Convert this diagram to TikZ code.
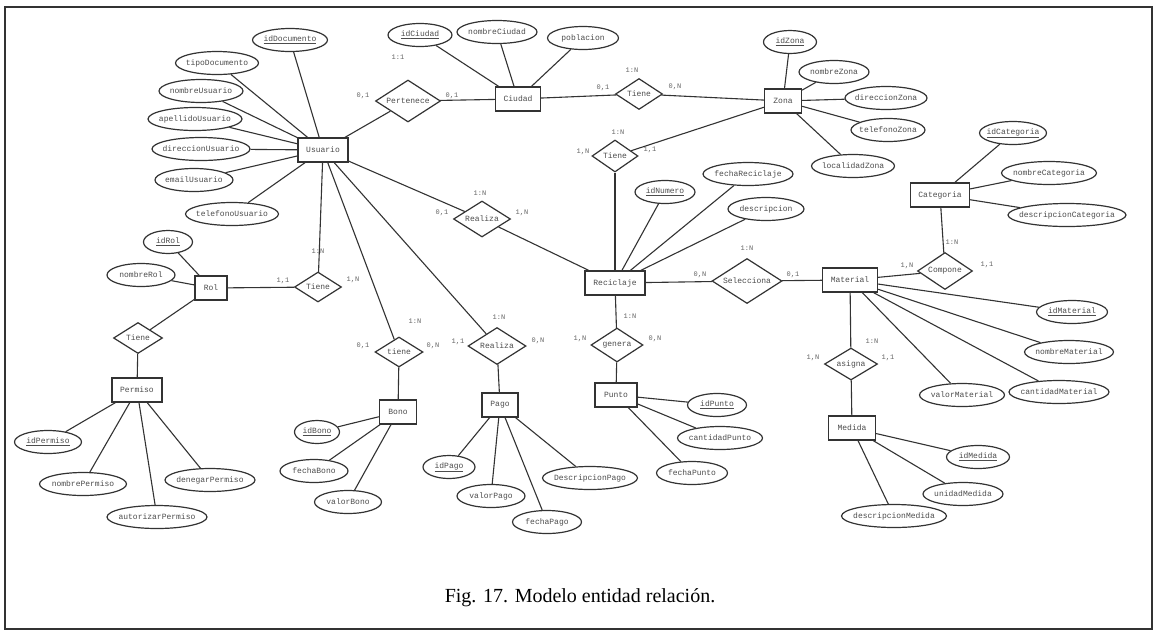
\documentclass[tikz,border=0pt]{standalone}
\usepackage{fontspec}
\setmainfont{Liberation Serif}
\newfontfamily\diafont{Liberation Mono}
\usetikzlibrary{shapes.geometric}

\begin{document}
\begin{tikzpicture}[x=1pt,y=-1pt,
  entity/.style={rectangle, draw=black!80, line width=1.3pt, minimum width=#1,
    minimum height=24, inner sep=0pt, font=\diafont\fontsize{8}{9}\selectfont, text=black!70},
  attr/.style={ellipse, draw=black!80, line width=1.2pt, inner xsep=-60pt, inner ysep=-20pt,
    minimum width=#1, minimum height=23, font=\diafont\fontsize{8}{9}\selectfont, text=black!70},
  rel/.style args={#1/#2}{diamond, draw=black!80, line width=1.2pt, inner xsep=-60pt,
    inner ysep=-40pt, minimum width=#1, minimum height=#2,
    font=\diafont\fontsize{8}{9}\selectfont, text=black!70},
  card/.style={font=\diafont\fontsize{7}{8}\selectfont, text=black!60, inner sep=0pt},
  link/.style={draw=black!80, line width=1.1pt},
  frame/.style={draw=black!80, line width=1.4pt}]

\useasboundingbox (0,0) rectangle (1158,633);
\fill[white] (0,0) rectangle (1158,633);
\draw[frame] (5,7) rectangle (1152,629);

% ---------- entities ----------
\node[entity=50] (usu) at (323,150) {Usuario};
\node[entity=45] (ciu) at (518,99) {Ciudad};
\node[entity=37] (zon) at (783,101) {Zona};
\node[entity=59] (cat) at (940,195) {Categoria};
\node[entity=60] (rec) at (615,283) {Reciclaje};
\node[entity=55] (mat) at (850,280) {Material};
\node[entity=47] (med) at (852,428) {Medida};
\node[entity=42] (pun) at (616,395) {Punto};
\node[entity=37] (bon) at (398,412) {Bono};
\node[entity=36] (pag) at (500,405) {Pago};
\node[entity=32] (rol) at (211,288) {Rol};
\node[entity=50] (per) at (137,390) {Permiso};

% ---------- relationships ----------
\node[rel=65/42] (pert) at (408,101) {Pertenece};
\node[rel=47/31] (tzon) at (639,94) {Tiene};
\node[rel=46/32] (trec) at (615,156) {Tiene};
\node[rel=57/36] (rrec) at (482,219) {Realiza};
\node[rel=70/45] (sel) at (747,281) {Selecciona};
\node[rel=55/37] (comp) at (945,271) {Compone};
\node[rel=53/32] (asig) at (851,364) {asigna};
\node[rel=52/34] (gen) at (617,345) {genera};
\node[rel=47/30] (trol) at (318,287) {Tiene};
\node[rel=48/30] (tbon) at (399,352) {tiene};
\node[rel=58/37] (rpag) at (497,346) {Realiza};
\node[rel=49/31] (tper) at (138,338) {Tiene};

% ---------- attributes ----------
% Usuario
\node[attr=75] (iddoc) at (290,40) {\underline{idDocumento}};
\node[attr=83] (tipdoc) at (217,63) {tipoDocumento};
\node[attr=84] (nomusu) at (201,91) {nombreUsuario};
\node[attr=94] (apeusu) at (195,119) {apellidoUsuario};
\node[attr=98] (dirusu) at (201,149) {direccionUsuario};
\node[attr=78] (emausu) at (194,180) {emailUsuario};
\node[attr=93] (telusu) at (232,214) {telefonoUsuario};
% Ciudad
\node[attr=64] (idciu) at (420,35) {\underline{idCiudad}};
\node[attr=80] (nomciu) at (497,32) {nombreCiudad};
\node[attr=71] (pobciu) at (583,38) {poblacion};
% Zona
\node[attr=53] (idzon) at (790,42) {\underline{idZona}};
\node[attr=70] (nomzon) at (834,72) {nombreZona};
\node[attr=82] (dirzon) at (886,98) {direccionZona};
\node[attr=74] (telzon) at (888,130) {telefonoZona};
\node[attr=83] (loczon) at (853,166) {localidadZona};
% Categoria
\node[attr=67] (idcat) at (1013,133) {\underline{idCategoria}};
\node[attr=95] (nomcat) at (1049,173) {nombreCategoria};
\node[attr=118] (descat) at (1067,215) {descripcionCategoria};
% Reciclaje
\node[attr=60] (idnum) at (665,192) {\underline{idNumero}};
\node[attr=90] (fecrec) at (748,174) {fechaReciclaje};
\node[attr=76] (desrec) at (766,209) {descripcion};
% Material
\node[attr=71] (idmat) at (1072,312) {\underline{idMaterial}};
\node[attr=89] (nommat) at (1069,352) {nombreMaterial};
\node[attr=100] (canmat) at (1059,392) {cantidadMaterial};
\node[attr=85] (valmat) at (962,395) {valorMaterial};
% Medida
\node[attr=63] (idmed) at (978,457) {\underline{idMedida}};
\node[attr=80] (unimed) at (963,494) {unidadMedida};
\node[attr=105] (desmed) at (894,516) {descripcionMedida};
% Punto
\node[attr=59] (idpun) at (717,405) {\underline{idPunto}};
\node[attr=85] (canpun) at (720,438) {cantidadPunto};
\node[attr=71] (fecpun) at (692,473) {fechaPunto};
% Bono
\node[attr=45] (idbon) at (317,432) {\underline{idBono}};
\node[attr=68] (fecbon) at (314,471) {fechaBono};
\node[attr=67] (valbon) at (348,502) {valorBono};
% Pago
\node[attr=52] (idpag) at (449,467) {\underline{idPago}};
\node[attr=68] (valpag) at (491,496) {valorPago};
\node[attr=69] (fecpag) at (547,522) {fechaPago};
\node[attr=95] (despag) at (590,478) {DescripcionPago};
% Rol
\node[attr=49] (idrol) at (168,242) {\underline{idRol}};
\node[attr=68] (nomrol) at (141,275) {nombreRol};
% Permiso
\node[attr=67] (idper) at (48,442) {\underline{idPermiso}};
\node[attr=87] (nomper) at (83,484) {nombrePermiso};
\node[attr=100] (autper) at (157,517) {autorizarPermiso};
\node[attr=90] (denper) at (210,480) {denegarPermiso};

% ---------- connectors ----------
\foreach \a in {iddoc,tipdoc,nomusu,apeusu,dirusu,emausu,telusu,pert,rrec,trol,tbon,rpag}
  \draw[link] (usu) -- (\a);
\foreach \a in {idciu,nomciu,pobciu,pert,tzon}
  \draw[link] (ciu) -- (\a);
\foreach \a in {tzon,trec,idzon,nomzon,dirzon,telzon,loczon}
  \draw[link] (zon) -- (\a);
\foreach \a in {trec,idnum,fecrec,desrec,rrec,sel,gen}
  \draw[link] (rec) -- (\a);
\foreach \a in {sel,comp,asig,idmat,nommat,canmat,valmat}
  \draw[link] (mat) -- (\a);
\foreach \a in {idcat,nomcat,descat,comp}
  \draw[link] (cat) -- (\a);
\foreach \a in {asig,idmed,unimed,desmed}
  \draw[link] (med) -- (\a);
\foreach \a in {gen,idpun,canpun,fecpun}
  \draw[link] (pun) -- (\a);
\foreach \a in {tbon,idbon,fecbon,valbon}
  \draw[link] (bon) -- (\a);
\foreach \a in {rpag,idpag,valpag,fecpag,despag}
  \draw[link] (pag) -- (\a);
\foreach \a in {idrol,nomrol,trol,tper}
  \draw[link] (rol) -- (\a);
\foreach \a in {tper,idper,nomper,autper,denper}
  \draw[link] (per) -- (\a);

% ---------- cardinalities ----------
\node[card] (k1) at (398,57) {1:1};
\node[card] (k2) at (363,96) {0,1};
\node[card] (k3) at (452,96) {0,1};
\node[card] (k4) at (632,70) {1:N};
\node[card] (k5) at (603,88) {0,1};
\node[card] (k6) at (675,87) {0,N};
\node[card] (k7) at (618,132) {1:N};
\node[card] (k8) at (583,152) {1,N};
\node[card] (k9) at (650,150) {1,1};
\node[card] (k10) at (480,193) {1:N};
\node[card] (k11) at (442,213) {0,1};
\node[card] (k12) at (522,213) {1,N};
\node[card] (k13) at (747,248) {1:N};
\node[card] (k14) at (700,275) {0,N};
\node[card] (k15) at (793,275) {0,1};
\node[card] (k16) at (630,316) {1:N};
\node[card] (k17) at (580,339) {1,N};
\node[card] (k18) at (655,339) {0,N};
\node[card] (k19) at (952,242) {1:N};
\node[card] (k20) at (907,266) {1,N};
\node[card] (k21) at (987,265) {1,1};
\node[card] (k22) at (872,341) {1:N};
\node[card] (k23) at (813,358) {1,N};
\node[card] (k24) at (888,358) {1,1};
\node[card] (k25) at (318,251) {1:N};
\node[card] (k26) at (283,281) {1,1};
\node[card] (k27) at (353,280) {1,N};
\node[card] (k28) at (415,321) {1:N};
\node[card] (k29) at (363,346) {0,1};
\node[card] (k30) at (433,346) {0,N};
\node[card] (k31) at (499,317) {1:N};
\node[card] (k32) at (458,342) {1,1};
\node[card] (k33) at (538,341) {0,N};

% ---------- caption ----------
\node[font=\fontsize{20}{24}\selectfont, inner sep=0pt] (cap) at (580,598) {Fig. 17. Modelo entidad relación.};
\end{tikzpicture}
\end{document}
